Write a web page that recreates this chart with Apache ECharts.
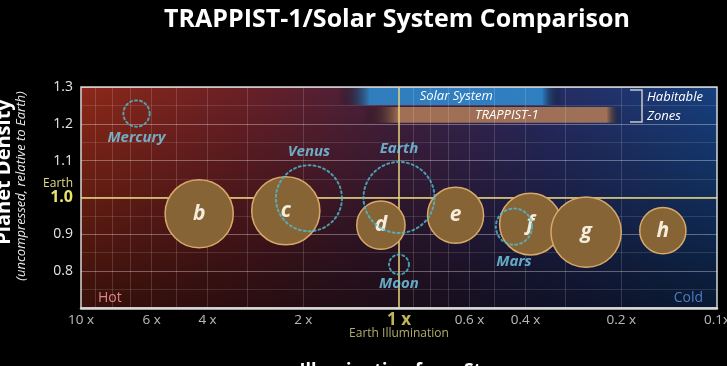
<!DOCTYPE html>
<html>
<head>
<meta charset="utf-8">
<script src="https://cdn.jsdelivr.net/npm/echarts@6/dist/echarts.min.js"></script>
<style>html,body{margin:0;padding:0;background:#000;}#c{width:727px;height:366px;}</style>
</head>
<body>
<div id="c"></div>
<script>
// ---- data ----
const trappistNames = ['b', 'c', 'd', 'e', 'f', 'g', 'h'];
const trappistIllum = [4.25, 2.27, 1.14, 0.664, 0.386, 0.258, 0.148];
const trappistDensity = [0.956, 0.964, 0.925, 0.952, 0.928, 0.906, 0.910];
const trappistRadius = [0.96, 0.96, 0.68, 0.79, 0.87, 0.99, 0.65];

const solarNames = ['Mercury', 'Venus', 'Earth', 'Moon', 'Mars'];
const solarIllum = [6.69, 1.92, 1.0, 1.0, 0.435];
const solarDensity = [1.228, 0.998, 1.0, 0.818, 0.921];
const solarRadius = [0.37, 0.93, 1.0, 0.28, 0.51];

const xTickValues = [10, 6, 4, 2, 1, 0.6, 0.4, 0.2, 0.1];
const xTickLabels = ['10 x', '6 x', '4 x', '2 x', '1 x', '0.6 x', '0.4 x', '0.2 x', '0.1x'];
const xGridValues = [9, 8, 7, 6, 5, 4, 3, 2, 0.9, 0.8, 0.7, 0.6, 0.5, 0.4, 0.3, 0.2];

const zoneNames = ['Solar System', 'TRAPPIST-1'];
const zoneIllumFrom = [1.55, 1.29];
const zoneIllumTo = [0.307, 0.199];
const zoneDensityLow = [1.251, 1.203];
const zoneDensityHigh = [1.298, 1.246];

const yMin = 0.7, yMax = 1.3, yStep = 0.1;
const xMin = 0.1, xMax = 10;

// ---- styling ----
const FONT = 'Open Sans';
const SCALE = 71; // px diameter for 1 Earth radius
const solarLabelPos = { Mercury: ['bottom', 2], Venus: ['top', 4], Earth: ['top', 4], Moon: ['bottom', 0], Mars: ['bottom', 8] };
const zoneStyle = [
  { color: '#2f86c9', fadeIn: 0.14, fadeOut: 0.91, offset: [6, 0] },
  { color: '#a97656', fadeIn: 0.135, fadeOut: 0.94, offset: [14, 0] }
];
function hgrad(stops) {
  return { type: 'linear', x: 0, y: 0, x2: 1, y2: 0, colorStops: stops, global: false };
}

const chart = echarts.init(document.getElementById('c'), null, { renderer: 'canvas' });

const option = {
  backgroundColor: '#000',
  animation: false,
  textStyle: { fontFamily: FONT },
  grid: { left: 81, right: 10, top: 87, bottom: 58 },
  xAxis: {
    type: 'log', logBase: 10, min: xMin, max: xMax, inverse: true, z: 7,
    axisLine: { show: true, lineStyle: { color: '#d9d9d9', width: 2.5 } },
    axisTick: { show: false }, axisLabel: { show: false }, splitLine: { show: false }
  },
  yAxis: {
    type: 'value', min: yMin, max: yMax, interval: yStep, z: 2,
    axisLine: { show: false }, axisTick: { show: false },
    axisLabel: {
      margin: 8, color: '#e6e6e6', fontSize: 14, fontFamily: FONT,
      formatter: function (v) {
        if (Math.abs(v - yMin) < 1e-6) return '';
        if (Math.abs(v - 1) < 1e-6) return '{e|Earth}\n{o|1.0}\n{e|}';
        return v.toFixed(1);
      },
      rich: {
        e: { color: '#e3dc84', fontSize: 12, lineHeight: 12, align: 'right', fontFamily: FONT },
        o: { color: '#ece36e', fontSize: 16, fontWeight: 'bold', lineHeight: 16, align: 'right', fontFamily: FONT }
      }
    },
    splitLine: { show: true, lineStyle: { color: 'rgba(255,255,255,0.33)', width: 1 } },
    minorTick: { show: false, splitNumber: 2 },
    minorSplitLine: { show: true, lineStyle: { color: 'rgba(255,255,255,0.12)', width: 1 } }
  },
  series: [
    // background
    {
      type: 'line', data: [], z: 1, silent: true,
      markArea: {
        silent: true,
        data: [
          [{ xAxis: xMax, yAxis: yMax, itemStyle: { color: hgrad([
              { offset: 0, color: '#8c2818' }, { offset: 0.25, color: '#6a2026' },
              { offset: 0.5, color: '#42203f' }, { offset: 0.72, color: '#282a60' },
              { offset: 1, color: '#16407f' }]) } },
           { xAxis: xMin, yAxis: yMin }],
          [{ xAxis: xMax, yAxis: yMax, itemStyle: { color: { type: 'linear', x: 0, y: 0, x2: 0, y2: 1, colorStops: [
              { offset: 0, color: 'rgba(0,0,0,0)' }, { offset: 1, color: 'rgba(0,0,0,0.6)' }] } } },
           { xAxis: xMin, yAxis: yMin }]
        ]
      }
    },
    // habitable zones
    {
      type: 'line', data: [], z: 3, silent: true,
      markArea: {
        silent: true,
        data: zoneNames.map(function (n, i) {
          const s = zoneStyle[i];
          return [
            { name: n, xAxis: zoneIllumFrom[i], yAxis: zoneDensityHigh[i],
              itemStyle: { opacity: 0.92, color: hgrad([
                { offset: 0, color: 'rgba(0,0,0,0)' }, { offset: s.fadeIn, color: s.color },
                { offset: s.fadeOut, color: s.color }, { offset: 1, color: 'rgba(0,0,0,0)' }]) },
              label: { show: true, position: 'inside', offset: s.offset, color: '#fff', fontStyle: 'italic', fontSize: 13, fontFamily: FONT } },
            { xAxis: zoneIllumTo[i], yAxis: zoneDensityLow[i] }
          ];
        })
      }
    },
    // vertical log grid lines
    {
      type: 'line', data: [], z: 3, silent: true,
      markLine: {
        silent: true, symbol: 'none', label: { show: false },
        lineStyle: { color: 'rgba(255,255,255,0.15)', width: 1, type: 'solid' },
        data: xGridValues.map(function (v) { return { xAxis: v }; })
      }
    },
    // Earth reference lines
    {
      type: 'line', data: [], z: 4, silent: true,
      markLine: {
        silent: true, symbol: 'none', label: { show: false },
        lineStyle: { color: '#e8d67c', width: 1.5, type: 'solid' },
        data: [{ xAxis: 1 }, { yAxis: 1 }]
      }
    },
    // TRAPPIST-1 planets
    {
      type: 'scatter', z: 5,
      data: trappistIllum.map(function (x, i) { return [x, trappistDensity[i], trappistRadius[i], trappistNames[i]]; }),
      symbol: 'circle',
      symbolSize: function (d) { return d[2] * SCALE; },
      itemStyle: { color: '#866435', borderColor: '#d8a86b', borderWidth: 1.5, opacity: 1 },
      label: {
        show: true, position: 'inside', formatter: function (p) { return p.data[3]; },
        color: '#f4ecdc', fontSize: 21, fontWeight: 'bold', fontStyle: 'italic', fontFamily: FONT
      }
    },
    // Solar System bodies
    {
      type: 'scatter', z: 6,
      data: solarIllum.map(function (x, i) {
        const lp = solarLabelPos[solarNames[i]];
        return { value: [x, solarDensity[i], solarRadius[i], solarNames[i]], label: { position: lp[0], distance: lp[1] } };
      }),
      symbol: 'circle',
      symbolSize: function (d) { return d[2] * SCALE; },
      itemStyle: { color: 'rgba(0,0,0,0)', borderColor: '#4fbdd0', borderWidth: 2, borderType: [2, 3], borderCap: 'round' },
      label: {
        show: true, formatter: function (p) { return p.data.value[3]; },
        color: '#78d0ec', fontSize: 15, lineHeight: 16, fontWeight: 'bold', fontStyle: 'italic', fontFamily: FONT
      }
    },
    // plot border
    {
      type: 'line', data: [], z: 7, silent: true,
      markArea: {
        silent: true,
        itemStyle: { color: 'rgba(0,0,0,0)', borderColor: '#d6d6d6', borderWidth: 1.5 },
        data: [[{ xAxis: xMax, yAxis: yMax }, { xAxis: xMin, yAxis: yMin }]]
      }
    },
    // x tick labels
    {
      type: 'scatter', z: 8, silent: true, clip: false, symbolSize: 0,
      data: xTickValues.map(function (v, i) {
        if (v === 1) {
          return { value: [v, yMin, xTickLabels[i]], label: { color: '#ece36e', fontSize: 17, fontWeight: 'bold' } };
        }
        return { value: [v, yMin, xTickLabels[i]] };
      }).concat([{ value: [1, yMin, 'Earth Illumination'], label: { color: '#dcd783', fontSize: 12, offset: [0, 26] } }]),
      label: {
        show: true, position: 'inside', offset: [0, 12], color: '#e6e6e6', fontSize: 13.5, fontFamily: FONT,
        formatter: function (p) { return p.data.value[2]; }
      }
    }
  ],
  graphic: {
    elements: [
      { type: 'text', z: 10, x: 397, y: 20, style: { text: 'TRAPPIST-1/Solar System Comparison', fill: '#fff', font: 'bold 25px "Open Sans"', align: 'center', verticalAlign: 'middle' } },
      { type: 'text', z: 10, x: 4, y: 172, rotation: Math.PI / 2, style: { text: 'Planet Density', fill: '#fff', font: 'bold 20px "Open Sans"', align: 'center', verticalAlign: 'middle' } },
      { type: 'text', z: 10, x: 21, y: 186, rotation: Math.PI / 2, style: { text: '(uncompressed, relative to Earth)', fill: '#e8e8e8', font: 'italic 13px "Open Sans"', align: 'center', verticalAlign: 'middle' } },
      { type: 'text', z: 10, x: 400, y: 362, style: { text: 'Illumination from Star', fill: '#fff', font: 'bold 18px "Open Sans"', align: 'center', verticalAlign: 'top' } },
      { type: 'text', z: 10, x: 98, y: 298, style: { text: 'Hot', fill: '#d9868a', font: '14px "Open Sans"', align: 'left', verticalAlign: 'middle' } },
      { type: 'text', z: 10, x: 703, y: 298, style: { text: 'Cold', fill: '#4c7cc4', font: '14px "Open Sans"', align: 'right', verticalAlign: 'middle' } },
      { type: 'polyline', z: 10, shape: { points: [[630, 90], [642, 90], [642, 122], [630, 122]] }, style: { stroke: '#c8c8c8', lineWidth: 1.5, fill: null } },
      { type: 'text', z: 10, x: 647, y: 97, style: { text: 'Habitable', fill: '#fff', font: 'italic 13px "Open Sans"', align: 'left', verticalAlign: 'middle' } },
      { type: 'text', z: 10, x: 647, y: 116, style: { text: 'Zones', fill: '#fff', font: 'italic 13px "Open Sans"', align: 'left', verticalAlign: 'middle' } }
    ]
  }
};
chart.setOption(option);
</script>
</body>
</html>
